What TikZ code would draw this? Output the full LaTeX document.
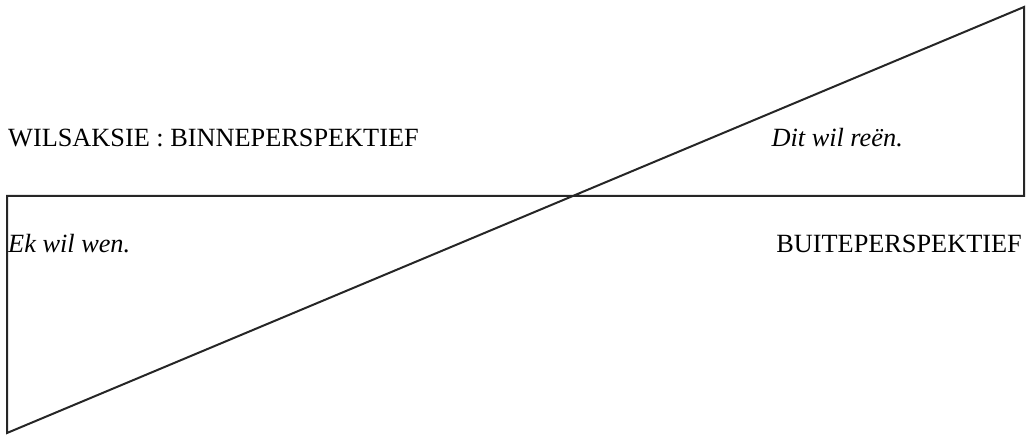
\documentclass[tikz,border=0pt]{standalone}
\usepackage{fontspec}
\setmainfont{Liberation Serif}
\tikzset{
  lbl/.style={inner sep=0pt, anchor=base west, font=\fontsize{26.3}{30}\selectfont},
  ilbl/.style={lbl, font=\fontsize{26.3}{30}\selectfont\itshape},
  frame/.style={line width=2pt, line join=miter, black!85}
}
\begin{document}
\begin{tikzpicture}[x=1pt,y=-1pt]
\useasboundingbox (0,0) rectangle (1031,438);
\coordinate (bl) at (7,433);
\coordinate (tr) at (1024,7);
\coordinate (mr) at (1024,196);
\coordinate (ml) at (7,196);
\draw[frame] (bl) -- (tr) -- (mr) -- (ml) -- cycle;
\node[lbl] (wil) at (8,147) {WILSAKSIE : BINNEPERSPEKTIEF};
\node[ilbl, anchor=base east] (dit) at (903,147) {Dit wil reën.};
\node[ilbl] (ek) at (8,253) {Ek wil wen.};
\node[lbl, anchor=base east] (buite) at (1022,253) {BUITEPERSPEKTIEF};
\end{tikzpicture}
\end{document}
